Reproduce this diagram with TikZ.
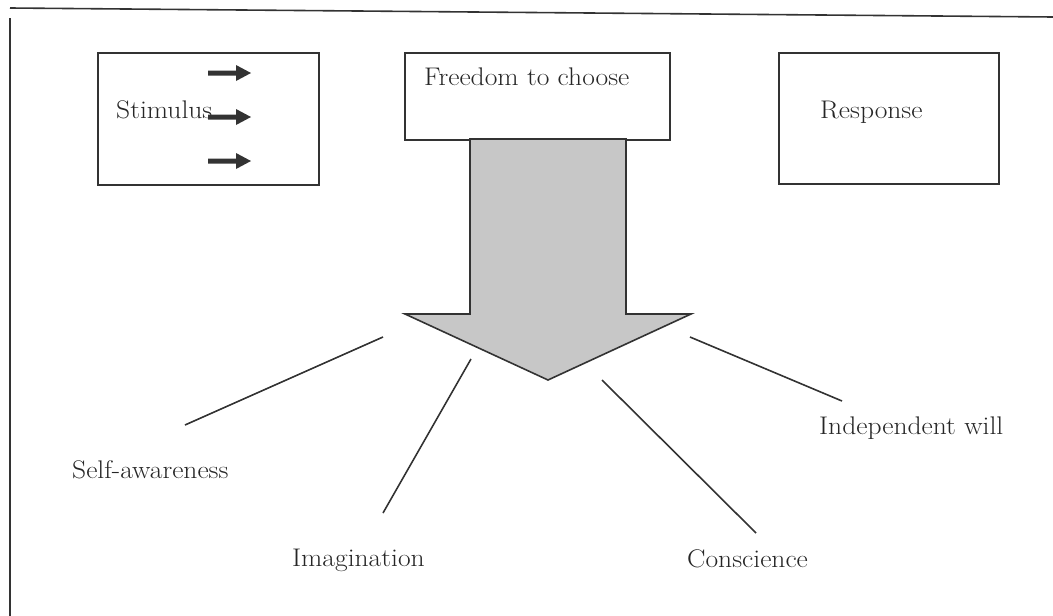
\documentclass[tikz,border=0pt]{standalone}
\usepackage{fontspec}
\setmainfont{Latin Modern Roman}[FakeStretch=1.08]
\begin{document}
\begin{tikzpicture}[x=1pt,y=-1pt,
  ink/.style={draw=black!80,line width=1.6pt},
  boxst/.style={ink,rectangle,inner sep=0pt,anchor=north west},
  lbl/.style={inner sep=0pt,anchor=west,text=black!85,font=\fontsize{25.5}{30}\selectfont},
  smallarrow/.style={fill=black!80,draw=none}]
\useasboundingbox (0,0) rectangle (1053,616);
% frame lines
\coordinate (tl) at (10,8);
\coordinate (tr) at (1053,17);
\coordinate (lt) at (10,18);
\coordinate (lb) at (10,616);
\draw[ink] (tl) -- (tr);
\draw[ink] (lt) -- (lb);
% boxes
\node[boxst,minimum width=221pt,minimum height=132pt] (stim) at (97,52) {};
\node[boxst,minimum width=265pt,minimum height=87pt] (free) at (404,52) {};
\node[boxst,minimum width=220pt,minimum height=131pt] (resp) at (778,52) {};
\node[lbl] (tstim) at (116,110) {Stimulus};
\node[lbl] (tfree) at (424,77) {Freedom to choose};
\node[lbl] (tresp) at (820,112) {Response};
% small arrows
\foreach \yy in {73,117,161}{
  \fill[smallarrow] (208,\yy-2.5) -- (236,\yy-2.5) -- (236,\yy-8) -- (251,\yy) -- (236,\yy+8) -- (236,\yy+2.5) -- (208,\yy+2.5) -- cycle;
}
% big arrow
\draw[ink,fill=black!22,line join=miter] (470,139) -- (626,139) -- (626,314) -- (691,314) -- (548,380) -- (405,314) -- (470,314) -- cycle;
% spokes
\coordinate (s1a) at (383,337); \coordinate (s1b) at (185,425);
\coordinate (s2a) at (471,359); \coordinate (s2b) at (383,513);
\coordinate (s3a) at (602,380); \coordinate (s3b) at (756,533);
\coordinate (s4a) at (690,337); \coordinate (s4b) at (842,401);
\draw[ink] (s1a) -- (s1b);
\draw[ink] (s2a) -- (s2b);
\draw[ink] (s3a) -- (s3b);
\draw[ink] (s4a) -- (s4b);
\node[lbl] (tself) at (72,470) {Self-awareness};
\node[lbl] (timag) at (292,560) {Imagination};
\node[lbl] (tcons) at (687,559) {Conscience};
\node[lbl] (tind) at (819,428) {Independent will};
\end{tikzpicture}
\end{document}
